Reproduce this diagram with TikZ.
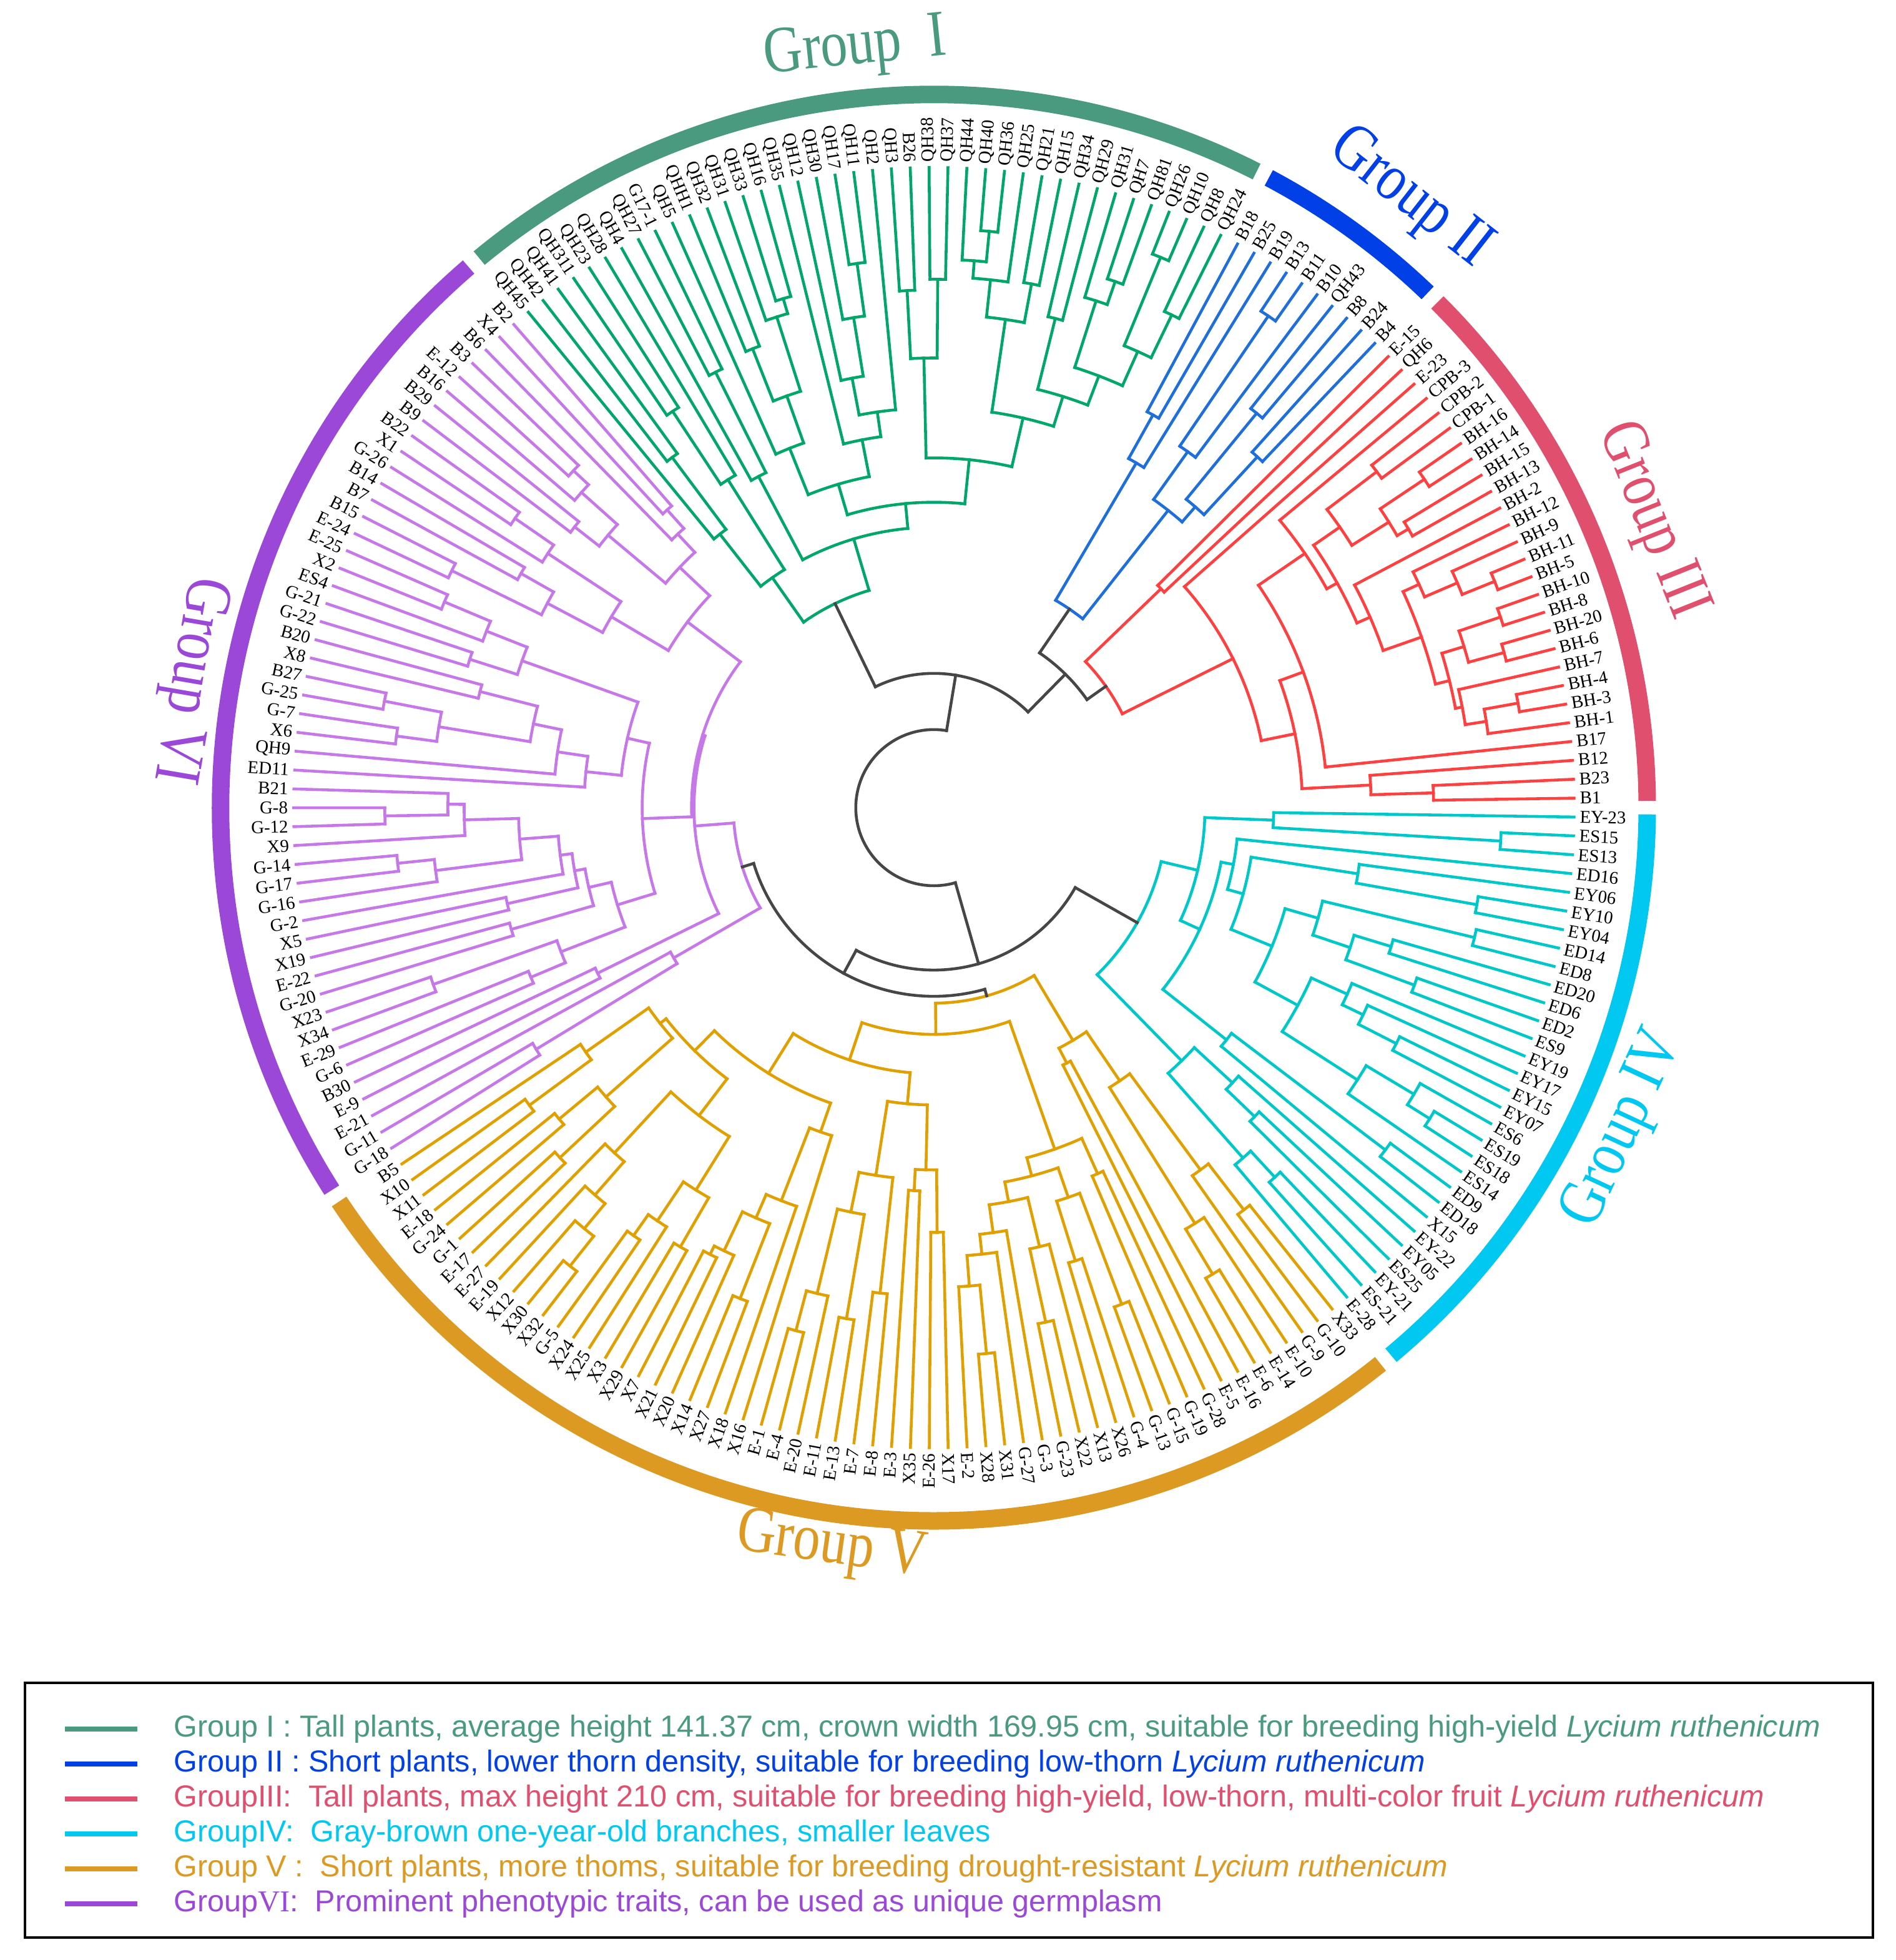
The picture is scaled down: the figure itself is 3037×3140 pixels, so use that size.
\documentclass[tikz,border=0pt]{standalone}
\usepackage{graphicx}
\usepackage{fontspec}
\setmainfont{Liberation Serif}
\newfontfamily\legfont{Liberation Sans}
\definecolor{cI}{RGB}{0,166,106}
\definecolor{cII}{RGB}{30,110,220}
\definecolor{cIII}{RGB}{255,64,64}
\definecolor{cIV}{RGB}{0,200,200}
\definecolor{cV}{RGB}{224,160,0}
\definecolor{cVI}{RGB}{198,120,232}
\definecolor{cBk}{RGB}{70,70,70}
\definecolor{bI}{RGB}{74,154,128}
\definecolor{bII}{RGB}{0,64,230}
\definecolor{bIII}{RGB}{224,80,110}
\definecolor{bIV}{RGB}{0,200,240}
\definecolor{bV}{RGB}{220,154,34}
\definecolor{bVI}{RGB}{155,72,216}

\newcommand\LeafSet[1]{%
  \pgfmathsetmacro\tmpa{129.3-1.6901*#1}%
  \expandafter\xdef\csname na@#1\endcsname{\tmpa}%
  \expandafter\xdef\csname nr@#1\endcsname{1025}}
\newcommand\Jn[3]{%
  \gdef\jmin{1000}\gdef\jmax{-1000}%
  \foreach \kid in {#3}{%
    \edef\ka{\csname na@\kid\endcsname}%
    \pgfmathsetmacro\tmpb{min(\jmin,\ka)}\xdef\jmin{\tmpb}%
    \pgfmathsetmacro\tmpb{max(\jmax,\ka)}\xdef\jmax{\tmpb}%
  }%
  \pgfmathsetmacro\rr{#2/100}%
  \draw (\jmin:\rr cm) arc[start angle=\jmin,end angle=\jmax,radius=\rr cm];
  \foreach \kid in {#3}{%
    \edef\ka{\csname na@\kid\endcsname}%
    \edef\kr{\csname nr@\kid\endcsname}%
    \pgfmathsetmacro\krr{\kr/100}%
    \draw (\ka:\rr cm) -- (\ka:\krr cm);
  }%
  \pgfmathsetmacro\tmpb{(\jmin+\jmax)/2}%
  \expandafter\xdef\csname na@#1\endcsname{\tmpb}%
  \expandafter\xdef\csname nr@#1\endcsname{#2}}
\newcommand\gtxt[1]{\scalebox{0.82}[1]{#1}}

\begin{document}
\begin{tikzpicture}[x=0.01cm,y=0.01cm,line cap=rect,line width=1.3pt,
  lab/.style={font=\fontsize{8.2}{9}\selectfont,inner sep=0pt,text=black},
  glab/.style={font=\fontsize{30}{36}\selectfont,inner sep=0pt},
  leg/.style={anchor=west,inner sep=0pt,font=\legfont\fontsize{13.8}{16}\selectfont},
  legline/.style={line width=0.08cm,line cap=butt}]
\fill[white] (0,0) rectangle (3037,3140);
\useasboundingbox (0,0) rectangle (3037,3140);

\foreach \i in {0,...,212}{\LeafSet{\i}}

\begin{scope}[shift={(14.95cm,18.45cm)}]
% ---------- Group I
\begin{scope}[color=cI]
\Jn{an1}{700}{1,2}
\Jn{an556}{556}{0,an1}
\Jn{an2}{760}{3,4}
\Jn{ana}{620}{an2,5}
\Jn{aGa}{450}{an556,ana}
\Jn{anb1}{780}{7,8}
\Jn{anb}{600}{6,anb1}
\Jn{ae1}{790}{10,11}
\Jn{ae2}{850}{13,14}
\Jn{ae3}{825}{12,ae2}
\Jn{ae4}{700}{ae1,ae3}
\Jn{ae5}{620}{9,ae4}
\Jn{af1}{880}{18,19}
\Jn{af2}{795}{17,af1}
\Jn{af3}{700}{16,af2}
\Jn{af4}{640}{af3,20}
\Jn{af6}{600}{15,af4}
\Jn{ac108}{540}{ae5,af6}
\Jn{ag0}{829}{21,22}
\Jn{ag2}{846}{23,24}
\Jn{ag1}{720}{ag0,ag2}
\Jn{ah1}{927}{26,27}
\Jn{ah2}{878}{25,ah1}
\Jn{ah3}{850}{ah2,28}
\Jn{ah4}{853}{29,30}
\Jn{ah5}{790}{ah3,ah4}
\Jn{ah6}{807}{31,32}
\Jn{ai1}{891}{34,35}
\Jn{ai2}{852}{33,ai1}
\Jn{ai3}{953}{36,37}
\Jn{ai4}{876}{38,39}
\Jn{ai5}{800}{ai3,ai4}
\Jn{ai6}{740}{ai2,ai5}
\Jn{ai7}{690}{ah6,ai6}
\Jn{ah7}{640}{ah5,ai7}
\Jn{ac82}{560}{ag1,ah7}
\Jn{an489}{489}{ac108,ac82}
\Jn{aGb}{449}{anb,an489}
\Jn{GI}{363}{aGa,aGb}
\end{scope}
% ---------- Group II
\begin{scope}[color=cII]
\Jn{bb1}{952}{43,44}
\Jn{bb2}{700}{bb1,45}
\Jn{bb3}{816}{46,47}
\Jn{bb4}{764}{48,49}
\Jn{bb5}{638}{bb3,bb4}
\Jn{bb6}{606}{bb2,bb5}
\Jn{bb7}{720}{40,41}
\Jn{bb8}{640}{bb7,42}
\Jn{GII}{385}{bb8,bb6}
\end{scope}
% ---------- Group III
\begin{scope}[color=cIII]
\Jn{cga}{505}{50,51}
\Jn{cp1}{890}{54,55}
\Jn{cp2}{945}{56,57}
\Jn{cp3}{881}{58,59}
\Jn{cp4}{860}{cp2,cp3}
\Jn{cM1}{790}{cp1,cp4}
\Jn{cq1}{968}{63,64}
\Jn{cq2}{912}{62,cq1}
\Jn{cq3}{855}{61,cq2}
\Jn{ck1a}{957}{65,66}
\Jn{ck1b}{946}{67,68}
\Jn{cK1}{887}{ck1a,ck1b}
\Jn{ck2c}{950}{70,71}
\Jn{cK2b}{895}{ck2c,72}
\Jn{cK2}{861}{69,cK2b}
\Jn{cK}{850}{cK1,cK2}
\Jn{cM3}{827}{cq3,cK}
\Jn{cM2}{762}{60,cM3}
\Jn{cN1b}{739}{cM1,cM2}
\Jn{cN1}{720}{53,cN1b}
\Jn{cZ1}{630}{cN1,73}
\Jn{cw1}{800}{75,76}
\Jn{cw2}{700}{74,cw1}
\Jn{cY}{590}{cZ1,cw2}
\Jn{cX2}{535}{52,cY}
\Jn{GIII}{337}{cga,cX2}
\end{scope}
% ---------- Group IV
\begin{scope}[color=cIV]
\Jn{d1}{909}{78,79}
\Jn{dP1}{544}{77,d1}
\Jn{d2}{883}{82,83}
\Jn{d3}{687}{81,d2}
\Jn{d4}{890}{84,85}
\Jn{d5}{765}{86,87}
\Jn{d6}{820}{88,89}
\Jn{d7}{703}{d5,d6}
\Jn{d8}{640}{d4,d7}
\Jn{d9}{937}{95,96}
\Jn{d10}{895}{94,d9}
\Jn{d11}{806}{d10,97}
\Jn{d12}{831}{92,93}
\Jn{d13}{763}{91,d12}
\Jn{d14}{726}{90,d13}
\Jn{d15}{663}{d14,d11}
\Jn{d16}{585}{d8,d15}
\Jn{d17}{514}{d3,d16}
\Jn{d18}{488}{80,d17}
\Jn{d19}{907}{98,99}
\Jn{d20}{598}{d19,100}
\Jn{dP2}{468}{d18,d20}
\Jn{dP}{434}{dP1,dP2}
\Jn{d21}{805}{104,105}
\Jn{d22}{748}{d21,106}
\Jn{d23}{713}{102,103}
\Jn{d24}{650}{101,d23}
\Jn{dQ}{567}{d24,d22}
\Jn{GIV}{374}{dP,dQ}
\end{scope}
% ---------- Group V
\begin{scope}[color=cV]
\Jn{v1}{813}{107,108}
\Jn{v2}{720}{v1,109}
\Jn{v3}{870}{111,112}
\Jn{v4}{786}{110,v3}
\Jn{vAa}{529}{v2,v4}
\Jn{vAb}{461}{113,114}
\Jn{vA}{434}{vAa,vAb}
\Jn{v5}{642}{115,116}
\Jn{v6}{850}{117,118}
\Jn{v7}{760}{119,120}
\Jn{v8}{660}{v6,v7}
\Jn{v9}{843}{122,123}
\Jn{v10}{723}{121,v9}
\Jn{v11}{878}{126,127}
\Jn{v12}{768}{128,v11}
\Jn{v13}{719}{125,v12}
\Jn{v14}{687}{124,v13}
\Jn{v15}{642}{v14,v10}
\Jn{v16}{610}{v15,v8}
\Jn{vBb}{580}{v5,v16}
\Jn{v17}{680}{129,130}
\Jn{v18}{614}{131,132}
\Jn{v19}{580}{v18,v17}
\Jn{v20}{782}{133,134}
\Jn{v21}{830}{135,136}
\Jn{v22}{866}{138,139}
\Jn{v23}{800}{137,v22}
\Jn{v24}{661}{v23,v21}
\Jn{v25}{596}{v24,v20}
\Jn{vBah}{476}{v19,v25}
\Jn{vs1}{800}{146,145}
\Jn{vs2}{785}{vs1,144}
\Jn{vs3}{845}{143,142}
\Jn{vs4}{716}{vs2,vs3}
\Jn{vs5}{675}{vs4,141}
\Jn{vs6}{550}{vs5,140}
\Jn{vt1}{812}{148,147}
\Jn{vt2}{837}{151,150}
\Jn{vt3}{796}{vt2,149}
\Jn{vt4}{721}{vt3,vt1}
\Jn{vt5}{937}{152,153}
\Jn{vt6}{876}{154,vt5}
\Jn{vt7}{824}{155,vt6}
\Jn{vt8}{753}{156,vt7}
\Jn{vt9}{620}{vt4,vt8}
\Jn{vu1}{804}{162,161}
\Jn{vu2}{681}{163,vu1}
\Jn{vu3}{780}{160,159}
\Jn{vu4}{820}{158,157}
\Jn{vu5}{700}{vu3,vu4}
\Jn{vu6}{558}{vu2,vu5}
\Jn{vu7}{546}{vt9,vu6}
\Jn{vBal}{501}{vs6,vu7}
\Jn{vBa}{426}{vBah,vBal}
\Jn{vB}{363}{vBb,vBa}
\Jn{GV}{313}{vA,vB}
\end{scope}
% ---------- Group VI
\begin{scope}[color=cVI]
\Jn{wf1}{745}{164,165}
\Jn{wW1}{481}{wf1,166}
\Jn{wf2}{600}{167,168}
\Jn{wx1}{879}{183,182}
\Jn{wx2}{778}{184,wx1}
\Jn{wx3}{752}{wx2,181}
\Jn{wx4}{863}{180,179}
\Jn{wx5}{804}{wx4,178}
\Jn{wx6}{665}{wx3,wx5}
\Jn{wx7}{603}{wx6,177}
\Jn{wx8}{700}{176,175}
\Jn{wx9}{584}{wx7,wx8}
\Jn{wx10}{704}{174,173}
\Jn{wx11}{567}{wx9,wx10}
\Jn{wx12}{700}{170,169}
\Jn{wx13}{850}{172,171}
\Jn{wx14}{640}{wx12,wx13}
\Jn{wx15}{530}{wx11,wx14}
\Jn{wy1}{896}{190,189}
\Jn{wy2}{868}{188,187}
\Jn{wy3}{803}{wy1,wy2}
\Jn{wy4}{750}{192,191}
\Jn{wy5}{655}{wy4,wy3}
\Jn{wy6}{609}{186,wy5}
\Jn{wY1}{560}{185,wy6}
\Jn{wz1}{780}{194,193}
\Jn{wz2}{850}{197,196}
\Jn{wz3}{770}{wz2,195}
\Jn{wY2}{700}{wz1,wz3}
\Jn{wY}{503}{wY1,wY2}
\Jn{wW3a}{467}{wY,wx15}
\Jn{wa1}{860}{199,198}
\Jn{wa2}{760}{201,200}
\Jn{wa3}{700}{wa1,wa2}
\Jn{wa4}{815}{203,204}
\Jn{wa5}{740}{202,wa4}
\Jn{walo}{600}{wa3,wa5}
\Jn{wb1}{790}{209,208}
\Jn{wb2}{757}{207,wb1}
\Jn{wb3}{730}{206,205}
\Jn{wb4}{680}{wb3,wb2}
\Jn{wc1}{640}{212,211}
\Jn{wc2}{600}{210,wc1}
\Jn{wahi}{560}{wb4,wc2}
\Jn{wW3b}{494}{walo,wahi}
\Jn{wW3}{388}{wW3a,wW3b}
\Jn{wW2}{384}{wf2,wW3}
\Jn{GVI}{321}{wW1,wW2}
\end{scope}
% ---------- backbone
\begin{scope}[color=cBk]
\Jn{kA2}{300}{GII,GIII}
\Jn{kA1}{215}{GI,kA2}
\Jn{kC}{302}{GVI,GV}
\Jn{kB}{260}{kC,GIV}
\edef\aA{\csname na@kA1\endcsname}
\edef\aB{\csname na@kB\endcsname}
\pgfmathsetmacro\aBB{\aB+360}
\draw (\aA:1.25cm) arc[start angle=\aA,end angle=\aBB,radius=1.25cm];
\draw (\aA:1.25cm) -- (\aA:2.15cm);
\draw (\aB:1.25cm) -- (\aB:2.6cm);
\end{scope}

% ---------- leaf labels
\foreach \nm [count=\i from 0] in {QH45,QH42,QH41,QH311,QH23,QH28,QH4,QH27,G17-1,QH5,QHH1,QH32,QH31,QH33,QH16,QH35,QH12,QH30,QH17,QH11,QH2,QH3,B26,QH38,QH37,QH44,QH40,QH36,QH25,QH21,QH15,QH34,QH29,QH31,QH7,QH81,QH26,QH10,QH8,QH24,B18,B25,B19,B13,B11,B10,QH43,B8,B24,B4,E-15,QH6,E-23,CPB-3,CPB-2,CPB-1,BH-16,BH-14,BH-15,BH-13,BH-2,BH-12,BH-9,BH-11,BH-5,BH-10,BH-8,BH-20,BH-6,BH-7,BH-4,BH-3,BH-1,B17,B12,B23,B1,EY-23,ES15,ES13,ED16,EY06,EY10,EY04,ED14,ED8,ED20,ED6,ED2,ES9,EY19,EY17,EY15,EY07,ES6,ES19,ES18,ES14,ED9,ED18,X15,EY-22,EY05,ES25,EY-21,ES-21,E-28,X33,G-10,G-9,E-10,E-14,E-6,E-16,E-5,G-28,G-19,G-15,G-13,G-4,X26,X13,X22,G-23,G-3,G-27,X31,X28,E-2,X17,E-26,X35,E-3,E-8,E-7,E-13,E-11,E-20,E-4,E-1,X16,X18,X27,X14,X20,X21,X7,X29,X3,X25,X24,G-5,X32,X30,X12,E-19,E-27,E-17,G-1,G-24,E-18,X11,X10,B5,G-18,G-11,E-21,E-9,B30,G-6,E-29,X34,X23,G-20,E-22,X19,X5,G-2,G-16,G-17,G-14,X9,G-12,G-8,B21,ED11,QH9,X6,G-7,G-25,B27,X8,B20,G-22,G-21,ES4,X2,E-25,E-24,B15,B7,B14,G-26,X1,B22,B9,B29,B16,E-12,B3,B6,X4,B2}{%
  \pgfmathsetmacro\ang{129.3-1.6901*\i}%
  \pgfmathparse{and(\ang>-90.2,\ang<90.5)}%
  \ifdim\pgfmathresult pt>0.5pt
    \node[lab,anchor=west,rotate=\ang] (l\i) at (\ang:10.32cm) {\nm};
  \else
    \pgfmathsetmacro\angb{\ang+180}%
    \node[lab,anchor=east,rotate=\angb] (l\i) at (\ang:10.32cm) {\nm};
  \fi}

% ---------- group bands
\foreach \a/\b/\col in {129.6/63.1/bI,62.0/46.2/bII,45.1/0.55/bIII,-0.54/-50.15/bIV,-51.24/-146.48/bV,-147.57/-229.29/bVI}{%
  \draw[\col,line width=0.28cm,line cap=butt] (\a:11.42cm) arc[start angle=\a,end angle=\b,radius=11.42cm];}

% ---------- group names
\node[glab,text=bI,rotate=5.9] (gI) at (95.9:12.21cm) {\gtxt{Group\ \ I}};
\node[glab,text=bII,rotate=-38] (gII) at (52:12.37cm) {\gtxt{Group II}};
\node[glab,text=bIII,rotate=-68.2] (gIII) at (21.8:12.37cm) {\gtxt{Group III}};
\node[glab,text=bIV,rotate=65] (gIV) at (-25:12.19cm) {\gtxt{Group IV}};
\node[glab,text=bV,rotate=-7.9] (gV) at (-97.9:11.96cm) {\gtxt{Group V}};
\node[glab,text=bVI,rotate=-99.7] (gVI) at (170.3:12.12cm) {\gtxt{Group VI}};
\end{scope}

% ---------- legend
\draw[line width=1.3pt,line cap=butt] (40,36) rectangle (3000,444);
\draw[legline,bI] (104,370) -- (220,370);
\node[leg,text=bI] (t1) at (276,370) {Group I : Tall plants, average height 141.37 cm, crown width 169.95 cm, suitable for breeding high-yield \textit{Lycium ruthenicum}};
\draw[legline,bII] (104,314) -- (220,314);
\node[leg,text=bII] (t2) at (276,314) {Group II : Short plants, lower thorn density, suitable for breeding low-thorn \textit{Lycium ruthenicum}};
\draw[legline,bIII] (104,258) -- (220,258);
\node[leg,text=bIII] (t3) at (276,258) {GroupIII:\ \ Tall plants, max height 210 cm, suitable for breeding high-yield, low-thorn, multi-color fruit \textit{Lycium ruthenicum}};
\draw[legline,bIV] (104,202) -- (220,202);
\node[leg,text=bIV] (t4) at (276,202) {GroupIV:\ \ Gray-brown one-year-old branches, smaller leaves};
\draw[legline,bV] (104,146) -- (220,146);
\node[leg,text=bV] (t5) at (276,146) {Group V :\ \ Short plants, more thoms, suitable for breeding drought-resistant \textit{Lycium ruthenicum}};
\draw[legline,bVI] (104,90) -- (220,90);
\node[leg,text=bVI] (t6) at (276,90) {Group{\rmfamily VI}:\ \ Prominent phenotypic traits, can be used as unique germplasm};
\end{tikzpicture}
\end{document}
